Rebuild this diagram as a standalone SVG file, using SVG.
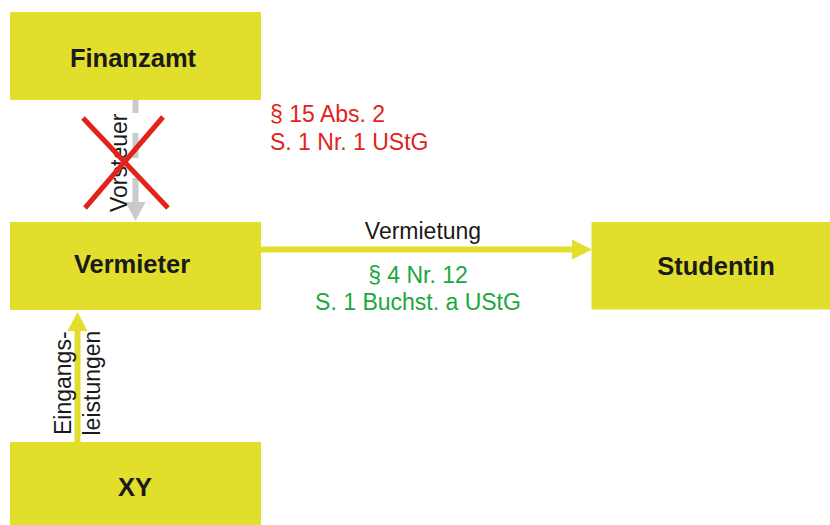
<svg xmlns="http://www.w3.org/2000/svg" width="830" height="525" viewBox="0 0 830 525">
<style>
  .box { fill: #e1df2c; }
  .lbl { font-family: "Liberation Sans", Arial, sans-serif; font-weight: bold; font-size: 25.5px; fill: #1a1a1a; text-anchor: middle; }
  .t { font-family: "Liberation Sans", Arial, sans-serif; font-size: 23px; }
  .dark { fill: #1a1a1a; }
  .red { fill: #e2231a; }
  .green { fill: #1aa83c; }
</style>
<rect width="830" height="525" fill="#ffffff"/>
<g id="finanzamt">
  <rect class="box" x="10" y="12" width="251" height="88"/>
  <text class="lbl" x="133" y="66.5">Finanzamt</text>
</g>
<g id="vermieter">
  <rect class="box" x="10" y="222" width="251" height="88"/>
  <text class="lbl" x="132" y="272.5">Vermieter</text>
</g>
<g id="studentin">
  <rect class="box" x="591.5" y="222" width="250" height="87.5"/>
  <text class="lbl" x="716" y="275">Studentin</text>
</g>
<g id="xy">
  <rect class="box" x="10" y="442" width="251" height="90"/>
  <text class="lbl" x="135" y="496">XY</text>
</g>
<g id="connectors">
  <!-- Vorsteuer (grey, dashed, crossed) -->
  <line x1="135.5" y1="100" x2="135.5" y2="203" stroke="#c9cacb" stroke-width="6" stroke-dasharray="25 20" stroke-dashoffset="12"/>
  <polygon points="125.5,202 145.5,202 135.5,221" fill="#c9cacb"/>
  <text class="t dark" transform="translate(127,212) rotate(-90)">Vorsteuer</text>
  <line x1="83" y1="118" x2="168" y2="208" stroke="#e2231a" stroke-width="5"/>
  <line x1="163" y1="117" x2="85" y2="208" stroke="#e2231a" stroke-width="5"/>
  <text class="t red" x="270" y="122">§ 15 Abs. 2</text>
  <text class="t red" x="270" y="149.5">S. 1 Nr. 1 UStG</text>
  <!-- Vermietung -->
  <line x1="261" y1="249.5" x2="573" y2="249.5" stroke="#e1df2c" stroke-width="6"/>
  <polygon points="572,239.5 572,259.5 592,249.5" fill="#e1df2c"/>
  <text class="t dark" x="423" y="238.5" text-anchor="middle">Vermietung</text>
  <text class="t green" x="418" y="283" text-anchor="middle">§ 4 Nr. 12</text>
  <text class="t green" x="418" y="310" text-anchor="middle">S. 1 Buchst. a UStG</text>
  <!-- Eingangsleistungen -->
  <line x1="77.5" y1="442" x2="77.5" y2="330" stroke="#e1df2c" stroke-width="6"/>
  <polygon points="67.5,331 87.5,331 77.5,312" fill="#e1df2c"/>
  <text class="t dark" transform="translate(71,435) rotate(-90)">Eingangs-</text>
  <text class="t dark" transform="translate(100,435.5) rotate(-90)">leistungen</text>
</g>
</svg>
